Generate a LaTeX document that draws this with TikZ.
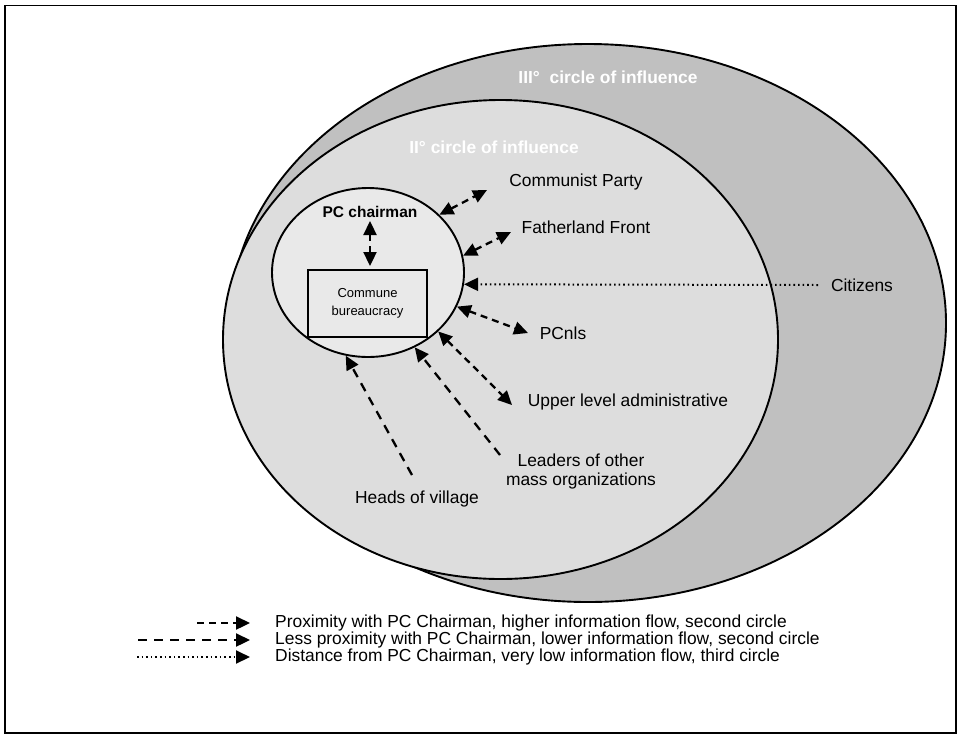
\documentclass[tikz,border=0pt]{standalone}
\usepackage{fontspec}
\setmainfont{Liberation Sans}
\usetikzlibrary{arrows.meta,shapes.geometric}
\definecolor{outergray}{RGB}{192,192,192}
\definecolor{midgray}{RGB}{221,221,221}
\definecolor{innergray}{RGB}{233,233,233}
\begin{document}
\begin{tikzpicture}[x=1pt,y=-1pt,
  lbl/.style={font=\fontsize{17.4}{19}\selectfont, inner sep=0pt, align=center},
  ringlbl/.style={font=\bfseries\fontsize{17.4}{19}\selectfont, text=white, inner sep=0pt},
  ring/.style={draw=black, line width=1.9pt},
  head/.tip={Triangle[length=14pt,width=13pt]},
  prox/.style={line width=2.3pt, dash pattern=on 7pt off 5pt, {head}-{head}},
  less/.style={line width=2.3pt, dash pattern=on 9pt off 7pt, -{head}},
  dist/.style={line width=2pt, dash pattern=on 1.6pt off 3pt, -{head}},
]
\useasboundingbox (0,0) rectangle (960,737);
% outer frame
\draw[line width=1.8pt] (5,5.5) rectangle (956,733);

% circles of influence
\fill[outergray] (588,323) ellipse [x radius=358, y radius=279];
\draw[ring] (588,323) ellipse [x radius=358, y radius=279];
\fill[midgray] (500.5,339.5) ellipse [x radius=277.5, y radius=239.5];
\draw[ring] (500.5,339.5) ellipse [x radius=277.5, y radius=239.5];

\node[ringlbl] (third) at (608,77) {III\textdegree\ \ circle of influence};
\node[ringlbl] (second) at (494,147) {II\textdegree\ circle of influence};

% first circle: PC chairman and commune bureaucracy
\node[ellipse, draw=black, line width=1.9pt, fill=innergray,
      minimum width=192pt, minimum height=169pt, inner sep=0pt] (pc) at (368,272.5) {};
\node[draw=black, line width=1.6pt, fill=innergray, minimum width=119pt,
      minimum height=67pt, inner sep=0pt, align=center,
      font=\fontsize{13}{18}\selectfont] (bureau) at (367.5,303.5)
      {Commune\\bureaucracy};
\node[font=\bfseries\fontsize{15.5}{18}\selectfont, inner sep=0pt] (chair) at (370,212) {PC chairman};
\coordinate (chairlow) at (370,221);
\coordinate (bureautop) at (370,266);
\draw[prox] (chairlow) -- (bureautop);

% actors
\node[lbl] (party) at (576,182) {Communist Party};
\node[lbl] (front) at (586,227) {Fatherland Front};
\node[lbl] (citizens) at (862,285) {Citizens};
\node[lbl] (pcnls) at (563,333) {PCnls};
\node[lbl] (upper) at (628,402) {Upper level administrative};
\node[lbl] (leaders) at (581,471) {Leaders of other\\mass organizations};
\node[lbl] (heads) at (417,499) {Heads of village};

\coordinate (partyend) at (487,190);
\coordinate (frontend) at (511,232);
\coordinate (citizensend) at (818,285);
\coordinate (pcnlsend) at (528,333);
\coordinate (upperend) at (512,405);
\coordinate (leadersend) at (500,455);
\coordinate (headsend) at (412,475);

\draw[prox] (pc.39) -- (partyend);
\draw[prox] (pc.10) -- (frontend);
\draw[dist] (citizensend) -- (pc.-7);
\draw[prox] (pc.-21) -- (pcnlsend);
\draw[prox] (pc.-40) -- (upperend);
\draw[less] (leadersend) -- (pc.-58);
\draw[less] (headsend) -- (pc.-105);

% legend
\coordinate (k1a) at (197,623);
\coordinate (k1b) at (250,623);
\coordinate (k2a) at (138,640);
\coordinate (k2b) at (250,640);
\coordinate (k3a) at (137,657);
\coordinate (k3b) at (250,657);
\draw[line width=2.3pt, dash pattern=on 7pt off 5pt, -{head}] (k1a) -- (k1b);
\draw[less] (k2a) -- (k2b);
\draw[dist] (k3a) -- (k3b);
\node[lbl, anchor=west] (key1) at (275,623) {Proximity with PC Chairman, higher information flow, second circle};
\node[lbl, anchor=west] (key2) at (275,640) {Less proximity with PC Chairman, lower information flow, second circle};
\node[lbl, anchor=west] (key3) at (275,657) {Distance from PC Chairman, very low information flow, third circle};
\end{tikzpicture}
\end{document}
